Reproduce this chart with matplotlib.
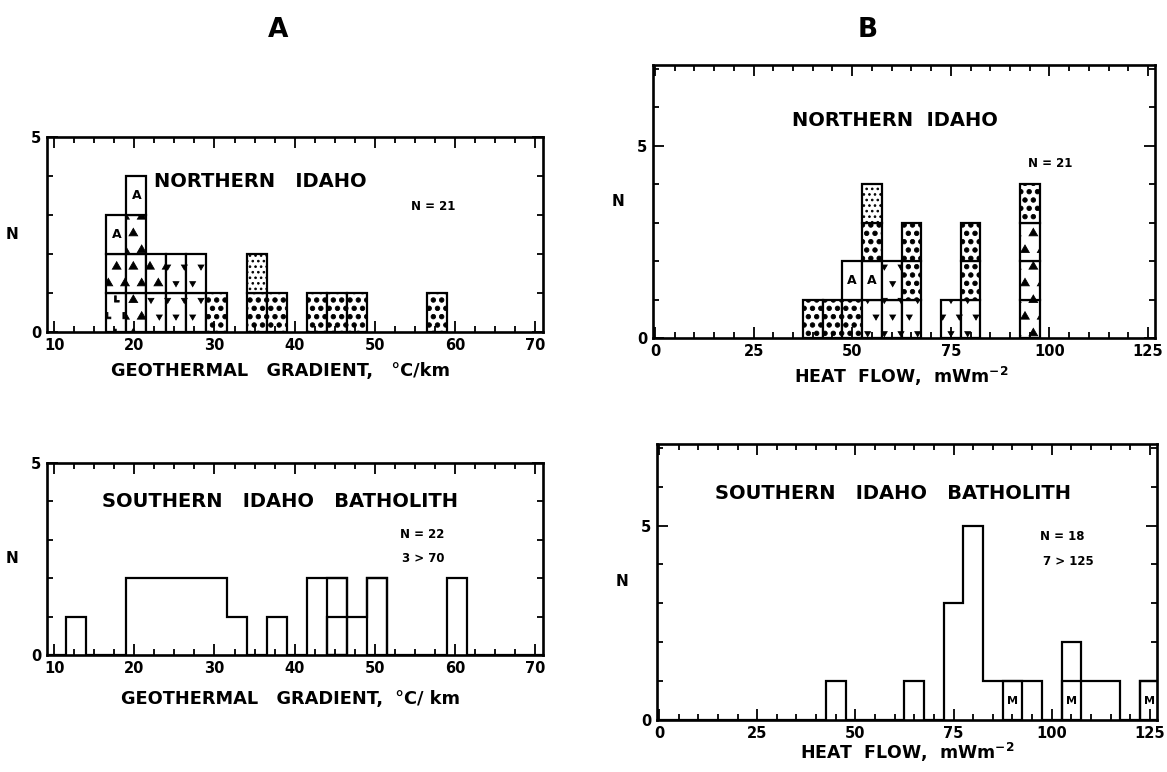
import warnings
import numpy as np
import matplotlib
matplotlib.use("Agg")
import matplotlib.pyplot as plt
import matplotlib.hatch as mhatch
from matplotlib.path import Path
from matplotlib.ticker import MultipleLocator, FixedLocator

warnings.filterwarnings("ignore")

# ---------------- data ----------------
# A: geothermal gradient, degC/km, bins 2.5 wide (left edges)
a_width = 2.5
a_top_left = [16.5, 19, 21.5, 24, 26.5, 29, 34, 36.5, 41.5, 44, 46.5, 56.5]
a_top_stacks = [["L", "tri", "A"], ["tri", "tri", "tri", "A"], ["tri2", "tri"],
                ["tri2", "tri2"], ["tri2", "tri2"], ["dot"], ["dot", "stip"],
                ["dot"], ["dot"], ["dot"], ["dot"], ["dot"]]

a_bot_left = [11.5, 19, 21.5, 24, 26.5, 29, 31.5, 36.5, 41.5, 44, 46.5, 49, 59]
a_bot_n = [1, 2, 2, 2, 2, 2, 1, 1, 2, 2, 1, 2, 2]
a_bot_box_left = [44, 44, 49]      # sub-boxes drawn inside the outline
a_bot_box_n = [1, 2, 2]

# B: heat flow, mW/m2, bins 5 wide (centres)
b_width = 5
b_top_mid = [40, 45, 50, 55, 60, 65, 75, 80, 95]
b_top_stacks = [["dot"], ["dot"], ["dot", "A"], ["tri2", "A", "dot", "stip"],
                ["tri2", "tri2"], ["tri2", "dot", "dot"], ["tri2"],
                ["tri2", "dot", "dot"], ["tri", "tri", "tri", "dot"]]

b_bot_mid = [45, 65, 75, 80, 85, 90, 95, 105, 110, 115, 125]
b_bot_n = [1, 1, 3, 5, 1, 1, 1, 2, 1, 1, 1]
b_bot_m_mid = [90, 105, 125]


# ---------------- custom hatches ----------------
def _shape_hatch(char, path, size):
    class _H(mhatch.Shapes):
        filled = True

        def __init__(self, hatch, density):
            self.size = size
            self.num_rows = hatch.count(char) * density
            self.shape_vertices = path.vertices
            self.shape_codes = path.codes
            super().__init__(hatch, density)
    mhatch._hatch_types.append(_H)


tri = Path.unit_regular_polygon(3)
tri_dn = Path(tri.vertices * [1, -1] + [0.3, 0], tri.codes)
ell = Path([(-0.5, 1), (-0.5, -0.5), (0.6, -0.5), (0.6, -0.1), (-0.1, -0.1),
            (-0.1, 1), (-0.5, 1)], closed=True)
_shape_hatch("v", tri, 0.3)
_shape_hatch("k", tri_dn, 0.2)
_shape_hatch("L", ell, 0.25)
_shape_hatch("d", Path.unit_circle(), 0.27)
_shape_hatch("s", Path.unit_circle(), 0.16)

hatches = {"L": "L", "tri": "v", "tri2": "k", "dot": "dd", "stip": "sss", "A": None}

plt.rcParams["hatch.linewidth"] = 0.6
plt.rcParams["font.family"] = "DejaVu Sans"
plt.rcParams["font.weight"] = "bold"
plt.rcParams["axes.labelweight"] = "bold"

fig = plt.figure(figsize=(11.67, 7.72), dpi=100)
ax_at = fig.add_axes([0.0403, 0.5699, 0.4250, 0.2526])
ax_ab = fig.add_axes([0.0403, 0.1516, 0.4250, 0.2487])
ax_bt = fig.add_axes([0.5596, 0.5622, 0.4302, 0.3536])
ax_bb = fig.add_axes([0.5630, 0.0674, 0.4284, 0.3575])

LW = 1.6


def style(ax, xlim, ylim, xmaj, xmin):
    ax.set_xlim(*xlim)
    ax.set_ylim(*ylim)
    ax.xaxis.set_major_locator(MultipleLocator(xmaj))
    ax.xaxis.set_minor_locator(MultipleLocator(xmin))
    ax.yaxis.set_major_locator(FixedLocator([0, 5]))
    ax.yaxis.set_minor_locator(MultipleLocator(1))
    ax.tick_params(which="both", direction="in", top=True, right=True,
                   width=1.3, labelsize=10.5, pad=4)
    ax.tick_params(which="major", length=8)
    ax.tick_params(which="minor", length=4)
    for s in ax.spines.values():
        s.set_linewidth(1.9)
    ax.set_ylabel("N", rotation=0, fontsize=11, labelpad=14, va="center")


def stacked(ax, lefts, stacks, width):
    for x, stack in zip(lefts, stacks):
        for k, cat in enumerate(stack):
            ax.bar(x, 1, width, bottom=k, align="edge", facecolor="white",
                   edgecolor="black", linewidth=LW, hatch=hatches[cat])
            if cat == "A":
                ax.text(x + width / 2, k + 0.5, "A", ha="center", va="center",
                        fontsize=9)


# ---- A top ----
style(ax_at, (9.1, 71.0), (0, 5), 10, 2.5)
stacked(ax_at, a_top_left, a_top_stacks, a_width)
ax_at.text(22.5, 3.85, "NORTHERN   IDAHO", fontsize=14, va="center")
ax_at.text(54.5, 3.23, "N = 21", fontsize=8.5, va="center")
ax_at.set_xlabel("GEOTHERMAL   GRADIENT,   \u00b0C/km", fontsize=12.8)
ax_at.xaxis.set_label_coords(0.47, -0.155)

# ---- A bottom ----
style(ax_ab, (9.1, 71.0), (0, 5), 10, 2.5)
edges = np.arange(9.0, 71.6, a_width)
vals = np.zeros(len(edges) - 1)
for x, n in zip(a_bot_left, a_bot_n):
    vals[int(round((x - edges[0]) / a_width))] = n
ax_ab.stairs(vals, edges, baseline=0, color="black", linewidth=LW)
ax_ab.bar(a_bot_box_left, a_bot_box_n, a_width, align="edge", fill=False,
          edgecolor="black", linewidth=LW)
ax_ab.text(16.0, 4.0, "SOUTHERN   IDAHO   BATHOLITH", fontsize=14, va="center")
ax_ab.text(53.2, 3.13, "N = 22", fontsize=8.5, va="center")
ax_ab.text(53.4, 2.51, "3 > 70", fontsize=8.5, va="center")
ax_ab.set_xlabel("GEOTHERMAL   GRADIENT,  \u00b0C/ km", fontsize=12.8)
ax_ab.xaxis.set_label_coords(0.49, -0.185)

# ---- B top ----
style(ax_bt, (-0.5, 126.8), (0, 7.1), 25, 5)
stacked(ax_bt, [m - b_width / 2 for m in b_top_mid], b_top_stacks, b_width)
ax_bt.text(34.8, 5.66, "NORTHERN  IDAHO", fontsize=14, va="center")
ax_bt.text(94.6, 4.55, "N = 21", fontsize=8.5, va="center")
ax_bt.set_xlabel("HEAT  FLOW,  mWm$^{\\mathbf{-2}}$", fontsize=12.5)
ax_bt.xaxis.set_label_coords(0.494, -0.10)

# ---- B bottom ----
style(ax_bb, (-0.5, 126.8), (0, 7.1), 25, 5)
b_edges = np.arange(-2.5, 132.6, b_width)
b_vals = np.zeros(len(b_edges) - 1)
for m, n in zip(b_bot_mid, b_bot_n):
    b_vals[int(round((m - b_width / 2 - b_edges[0]) / b_width))] = n
ax_bb.stairs(b_vals, b_edges, baseline=0, color="black", linewidth=LW)
ax_bb.bar(b_bot_m_mid, 1, b_width, fill=False, edgecolor="black", linewidth=LW)
for m in b_bot_m_mid:
    ax_bb.text(m, 0.5, "M", ha="center", va="center", fontsize=8)
ax_bb.text(14.3, 5.82, "SOUTHERN   IDAHO   BATHOLITH", fontsize=14, va="center")
ax_bb.text(96.9, 4.72, "N = 18", fontsize=8.5, va="center")
ax_bb.text(97.8, 4.08, "7 > 125", fontsize=8.5, va="center")
ax_bb.set_xlabel("HEAT  FLOW,  mWm$^{\\mathbf{-2}}$", fontsize=12.5)
ax_bb.xaxis.set_label_coords(0.5, -0.075)

fig.text(278 / 1167, 1 - 30 / 772, "A", fontsize=19, ha="center", va="center")
fig.text(868 / 1167, 1 - 30 / 772, "B", fontsize=19, ha="center", va="center")

fig.savefig("out.png", dpi=100)
